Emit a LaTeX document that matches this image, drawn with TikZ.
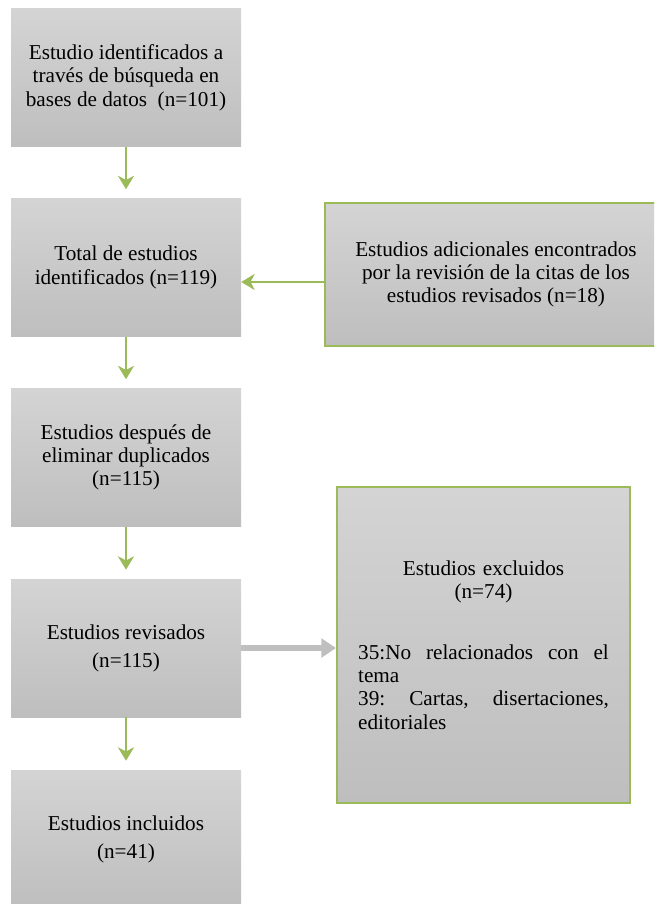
\documentclass[tikz,border=0pt]{standalone}
\usepackage{fontspec}
\setmainfont{Liberation Serif}
\usetikzlibrary{arrows.meta}
\definecolor{boxtop}{HTML}{D4D4D4}
\definecolor{boxbottom}{HTML}{BEBEBE}
\definecolor{flowgreen}{HTML}{9BBB59}
\definecolor{exclgray}{HTML}{BFBFBF}

\begin{document}
\begin{tikzpicture}[x=0.75pt,y=-0.75pt,
    stage/.style={top color=boxtop, bottom color=boxbottom, minimum width=172.5pt,
        minimum height=103.5pt, align=center, inner sep=0pt,
        font=\fontsize{15.9}{17.5}\selectfont},
    sidebox/.style={stage, draw=flowgreen, line width=1.5pt},
    flow/.style={draw=flowgreen, line width=1.5pt, -{Stealth[length=10pt,width=12pt,inset=3pt]}},
    skip/.style={draw=exclgray, line width=4.5pt, -{Triangle[length=11pt,width=14pt]}}]
    \useasboundingbox (0,0) rectangle (654,904);
    \clip (0,0) rectangle (654,904);
    % Below nodes are the boxes of the left column.
        \node[stage] (search) at (126,77.5) {Estudio identificados a\\través de búsqueda en\\bases de datos~~(n=101)};
        \node[stage] (total) at (126,267.5) {Total de estudios\\identificados (n=119)};
        \node[stage] (dedup) at (126,457.5) {Estudios después de\\eliminar duplicados\\(n=115)};
        \node[stage] (screened) at (126,648) {Estudios revisados\\[3.5pt](n=115)};
        \node[stage] (included) at (126,839) {Estudios incluidos\\[3.5pt](n=41)};
    % The two boxes on the right.
        \node[sidebox, minimum width=256.5pt, minimum height=107.25pt] (extra) at (496,274.5)
            {Estudios adicionales encontrados\\por la revisión de la citas de los\\estudios revisados (n=18)};
        \node[sidebox, minimum width=219.75pt, minimum height=237pt, text width=188pt, align=left] (excluded) at (483.5,645)
            {\makebox[\linewidth]{Estudios excluidos}\\
             \makebox[\linewidth]{(n=74)}\\[28pt]
             \makebox[\linewidth][l]{35:No\hfill relacionados\hfill con\hfill el}\\
             tema\\
             \makebox[\linewidth][l]{39:\hfill Cartas,\hfill disertaciones,}\\
             editoriales};
    % This draws the arrows.
        \draw[flow, shorten >=6.75pt] (search) -- (total);
        \draw[flow, shorten >=6.75pt] (total) -- (dedup);
        \draw[flow, shorten >=6.75pt] (dedup) -- (screened);
        \draw[flow, shorten >=6.75pt] (screened) -- (included);
        \draw[flow] ([yshift=-5.6pt]extra.west) -- ([yshift=-5.6pt]extra.west -| total.east);
        \draw[skip] (screened.east) -- (screened.east -| excluded.west);
\end{tikzpicture}
\end{document}
